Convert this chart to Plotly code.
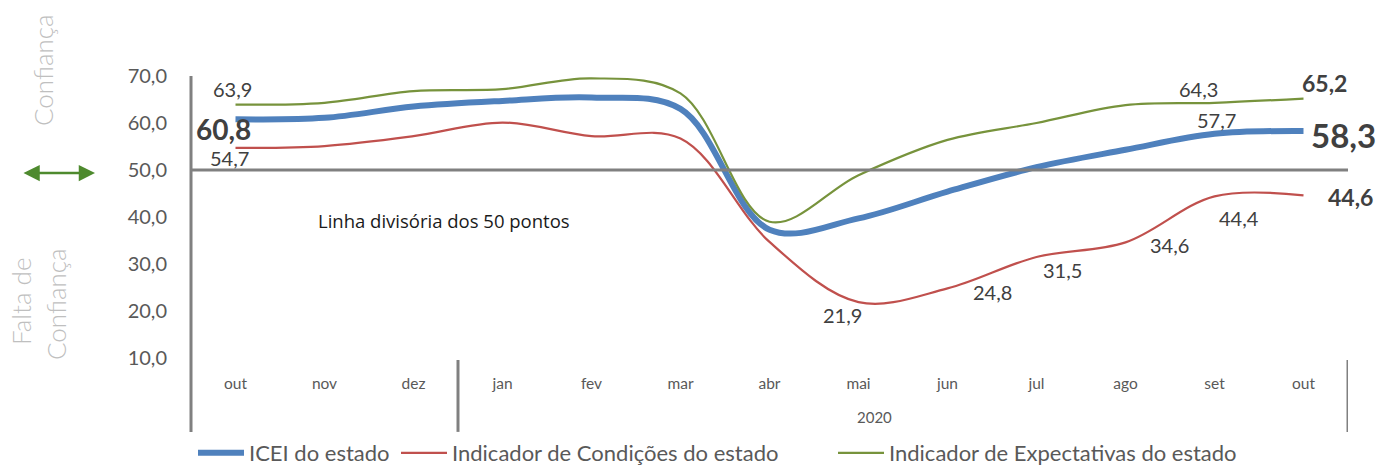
import plotly.graph_objects as go

months = ["out", "nov", "dez", "jan", "fev", "mar", "abr", "mai", "jun", "jul", "ago", "set", "out"]
icei = [60.8, 61.1, 63.5, 64.7, 65.4, 63.0, 37.3, 39.7, 45.4, 50.6, 54.3, 57.7, 58.3]
condicoes = [54.7, 55.1, 57.2, 60.1, 57.2, 56.7, 34.7, 21.9, 24.8, 31.5, 34.6, 44.4, 44.6]
expectativas = [63.9, 64.3, 66.8, 67.2, 69.5, 66.3, 39.0, 48.9, 56.4, 60.0, 63.8, 64.3, 65.2]
y_ticks = [10, 20, 30, 40, 50, 60, 70]
y_ticktext = ["10,0", "20,0", "30,0", "40,0", "50,0", "60,0", "70,0"]
year_label = "2020"

names = ["ICEI do estado", "Indicador de Condições do estado", "Indicador de Expectativas do estado"]
colors = ["#4F81BD", "#C0504D", "#77933C"]
widths = [6, 2.2, 2.2]
legend_ids = ["legend", "legend2", "legend3"]

FONT = "Lato"
GRAY = "#808080"
TXT = "#595959"
LBL = "#404040"

W, H = 1390, 466
L, R, T, B = 191, 42, 76, 108
pw, ph = W - L - R, H - T - B


def px(xp):
    return (xp - L) / pw


def py(yp):
    return (H - B - yp) / ph


x = list(range(len(months)))
fig = go.Figure()
for vals, nm, c, w, lg in zip([icei, condicoes, expectativas], names, colors, widths, legend_ids):
    fig.add_trace(go.Scatter(x=x, y=vals, name=nm, mode="lines", legend=lg,
                             line=dict(color=c, width=w, shape="spline", smoothing=1.0),
                             hoverinfo="skip"))


def fmt(v):
    return f"{v:.1f}".replace(".", ",")


# data labels: (series, index, xshift, yshift, size, bold)
labels = [
    (expectativas, 0, -3, 16, 20, False),
    (icei, 0, -12, -10, 28, True),
    (condicoes, 0, -6, -10, 20, False),
    (expectativas, 11, -16, 14, 20, False),
    (icei, 11, 2, 14, 20, False),
    (icei, 12, 40, -4, 33, True),
    (expectativas, 12, 21, 16, 23, True),
    (condicoes, 12, 47, -2, 23, True),
    (condicoes, 11, 24, -22, 20, False),
    (condicoes, 10, 44, -3, 20, False),
    (condicoes, 9, 26, -13, 20, False),
    (condicoes, 8, 45, -4, 20, False),
    (condicoes, 7, -16, -13, 20, False),
]
for s, i, dx, dy, sz, b in labels:
    t = fmt(s[i])
    if b:
        t = f"<b>{t}</b>"
    fig.add_annotation(x=i, y=s[i], xref="x", yref="y", text=t, showarrow=False,
                       xanchor="center", yanchor="middle",
                       xshift=dx, yshift=dy, font=dict(family=FONT, size=sz, color=LBL))

shapes = []
# left axis line extended down through category area
shapes.append(dict(type="line", xref="x domain", yref="y domain", x0=0, x1=0, y0=1, y1=-0.262,
                   line=dict(color=GRAY, width=3)))
# 50-point dividing line
shapes.append(dict(type="line", xref="x domain", yref="y", x0=0, x1=1, y0=50, y1=50,
                   line=dict(color=GRAY, width=3)))
# group separators
for xx in [2.5, 12.5]:
    shapes.append(dict(type="line", xref="x", yref="y domain", x0=xx, x1=xx, y0=-0.007, y1=-0.262,
                       line=dict(color=GRAY, width=3)))
fig.update_layout(shapes=shapes)

# year label
fig.add_annotation(x=7.18, y=-0.21, xref="x", yref="y domain", text=year_label, showarrow=False,
                   xanchor="center", yanchor="middle",
                   font=dict(family=FONT, size=15, color=TXT))
# dividing line text
fig.add_annotation(x=px(444), y=py(220), xref="paper", yref="paper", text="Linha divisória dos 50 pontos",
                   showarrow=False, xanchor="center", yanchor="middle",
                   font=dict(family="Open Sans", size=18.5, color="#1a1a1a"))

side = dict(family=FONT, size=26, color="#BFBFBF", weight=300)
fig.add_annotation(x=px(43), y=py(70), xref="paper", yref="paper", text="Confiança", textangle=-90,
                   xanchor="center", yanchor="middle", showarrow=False, font=side)
fig.add_annotation(x=px(21), y=py(302), xref="paper", yref="paper", text="Falta de", textangle=-90,
                   xanchor="center", yanchor="middle", showarrow=False, font=side)
fig.add_annotation(x=px(56), y=py(304), xref="paper", yref="paper", text="Confiança", textangle=-90,
                   xanchor="center", yanchor="middle", showarrow=False, font=side)
# double arrow
fig.add_annotation(x=px(95), y=py(173), xref="paper", yref="paper", ax=-73, ay=0, text="",
                   showarrow=True, arrowside="end+start", arrowhead=2, arrowsize=1.3, arrowwidth=2.5,
                   arrowcolor="#4E8A2E")

leg_common = dict(orientation="h", xanchor="left", yanchor="middle", y=py(453), itemwidth=46,
                  font=dict(family=FONT, size=22, color=TXT), bgcolor="rgba(0,0,0,0)")
legend_x = [193, 396, 833]

fig.update_layout(
    width=W, height=H,
    margin=dict(l=L, r=R, t=T, b=B, autoexpand=False),
    paper_bgcolor="white", plot_bgcolor="white",
    showlegend=True,
    legend=dict(x=px(legend_x[0]), **leg_common),
    legend2=dict(x=px(legend_x[1]), **leg_common),
    legend3=dict(x=px(legend_x[2]), **leg_common),
    xaxis=dict(range=[-0.5, 12.5], tickvals=x, ticktext=months, showgrid=False, zeroline=False,
               showline=False, ticks="", tickfont=dict(family=FONT, size=15.5, color=TXT),
               ticklabelstandoff=14, fixedrange=True, automargin=False),
    yaxis=dict(range=[10, 70], tickvals=y_ticks, ticktext=y_ticktext, showgrid=False, zeroline=False,
               showline=False, ticks="", tickfont=dict(family=FONT, size=20, color=TXT),
               ticklabelstandoff=23, fixedrange=True, automargin=False),
)

fig.write_html("out.html", post_script="document.body.style.margin='0';",
               config={"displayModeBar": False, "staticPlot": False})
